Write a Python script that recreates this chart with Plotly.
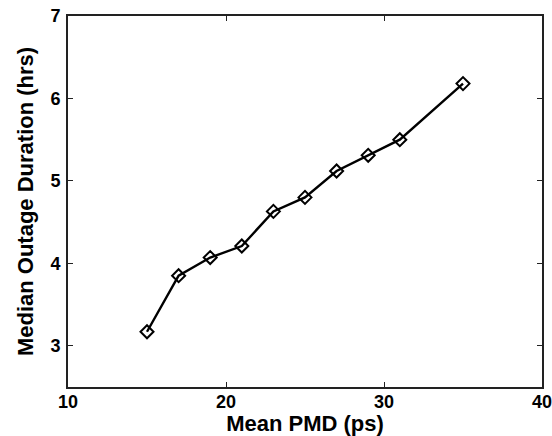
import plotly.graph_objects as go

mean_pmd = [15, 17, 19, 21, 23, 25, 27, 29, 31, 35]
median_outage = [3.17, 3.85, 4.07, 4.21, 4.63, 4.80, 5.12, 5.31, 5.50, 6.18]
x_ticks = [10, 20, 30, 40]
y_ticks = [3, 4, 5, 6, 7]

fig = go.Figure()
fig.add_trace(go.Scatter(
    x=mean_pmd, y=median_outage, mode="lines+markers",
    line=dict(color="black", width=2.4),
    marker=dict(symbol="diamond-open", size=10, color="black", line=dict(width=2)),
    showlegend=False,
))

font = "Liberation Sans, Arial, sans-serif"
axis_common = dict(
    showline=True, linecolor="#222", linewidth=1.6, mirror="ticks",
    ticks="inside", ticklen=5, tickcolor="#222", tickwidth=1,
    showgrid=False, zeroline=False, automargin=False,
    ticklabeloverflow="allow",
    tickfont=dict(family=font, size=18, color="black", weight="bold"),
)
fig.update_xaxes(range=[10, 40], tickvals=x_ticks, ticklabelstandoff=-2,
                 title=dict(text="Mean PMD (ps)", standoff=4,
                            font=dict(family=font, size=22, color="black", weight="bold")),
                 **axis_common)
fig.update_yaxes(range=[2.5, 7], tickvals=y_ticks, ticklabelstandoff=2,
                 title=dict(text="Median Outage Duration (hrs)", standoff=11,
                            font=dict(family=font, size=22, color="black", weight="bold")),
                 **axis_common)
fig.update_layout(
    width=552, height=436,
    margin=dict(l=68, r=10, t=16, b=49),
    plot_bgcolor="white", paper_bgcolor="white",
)
fig.write_html("out.html", config={"displayModeBar": False},
               post_script="document.body.style.margin='0';")
